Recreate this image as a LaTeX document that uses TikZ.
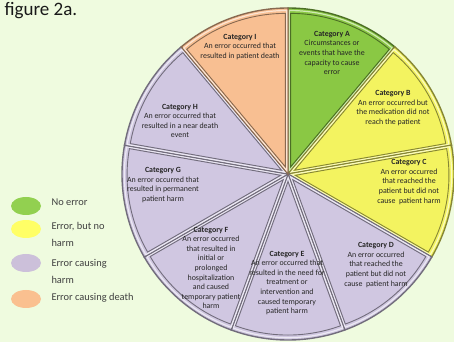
\documentclass[tikz,border=0pt]{standalone}
\usepackage{fontspec}
\setmainfont{Carlito}
\usetikzlibrary{shapes.geometric}

\definecolor{bgpale}{RGB}{239,251,223}
\definecolor{noerr}{RGB}{138,200,68}
\definecolor{noharm}{RGB}{243,243,96}
\definecolor{harm}{RGB}{208,199,225}
\definecolor{death}{RGB}{248,191,146}
\definecolor{keynoerr}{RGB}{146,208,80}
\definecolor{keynoharm}{RGB}{255,255,102}
\definecolor{keyharm}{RGB}{204,192,218}
\definecolor{keydeath}{RGB}{250,192,144}

\begin{document}
\begin{tikzpicture}[x=1pt,y=1pt,
    slice/.style={draw=#1!55!black, line width=1.4pt, fill=#1},
    bevel/.style={draw=#1!55!black, line width=0.9pt},
    cat/.style={font=\fontsize{7.9}{9.6}\selectfont, align=center, text=black!85},
    key/.style={ellipse, minimum width=30pt, minimum height=18pt, inner sep=0pt},
    keytext/.style={font=\fontsize{10.4}{17}\selectfont, text=black!75, anchor=west, align=left}]
    \useasboundingbox (0,0) rectangle (454,342);
    \fill[bgpale] (0,0) rectangle (454,342);

    \node[anchor=base west, font=\fontsize{19}{22}\selectfont, text=black!90] (title) at (1,326) {figure 2a.};

    % pie, nine equal slices, clockwise from the top
    \begin{scope}[shift={(288,168)}]
    \foreach \a/\c in {50/noerr,10/noharm,-30/noharm,-70/harm,-110/harm,-150/harm,170/harm,130/harm,90/death}{
        \draw[slice=\c] (0,0) -- (\a:166) arc[start angle=\a, end angle=\a+40, radius=166] -- cycle;
        \draw[white!60!\c, line width=1.2pt, scale around={0.965:(\a+20:100)}] (0,0) -- (\a:166) arc[start angle=\a, end angle=\a+40, radius=166] -- cycle;
        \draw[bevel=\c, scale around={0.925:(\a+20:100)}] (0,0) -- (\a:166) arc[start angle=\a, end angle=\a+40, radius=166] -- cycle;
    }
    \end{scope}

    \node[cat] (catA) at (332,289) {\textbf{Category A}\\Circumstances or\\events that have the\\capacity to cause\\error};
    \node[cat] (catB) at (393,234) {\textbf{Category B}\\An error occurred but\\the medication did not\\reach the patient};
    \node[cat] (catC) at (409,160) {\textbf{Category C}\\An error occurred\\that reached the\\patient but did not\\cause\ \ patient harm};
    \node[cat] (catD) at (376,77) {\textbf{Category D}\\An error occurred\\that reached the\\patient but did not\\cause\ \ patient harm};
    \node[cat] (catE) at (287,59) {\textbf{Category E}\\An error occurred that\\resulted in the need for\\treatment or\\intervention and\\caused temporary\\patient harm};
    \node[cat] (catF) at (211,74) {\textbf{Category F}\\An error occurred\\that resulted in\\initial or\\prolonged\\hospitalization\\and caused\\temporary patient\\harm};
    \node[cat] (catG) at (163,157) {\textbf{Category G}\\An error occurred that\\resulted in permanent\\patient harm};
    \node[cat] (catH) at (180,221) {\textbf{Category H}\\An error occurred that\\resulted in a near death\\event};
    \node[cat] (catI) at (240,295) {\textbf{Category I}\\An error occurred that\\resulted in patient death};

    % legend
    \node[key, fill=keynoerr] (keyA) at (26,136) {};
    \node[key, fill=keynoharm] (keyB) at (26,113) {};
    \node[key, fill=keyharm] (keyC) at (26,79) {};
    \node[key, fill=keydeath] (keyD) at (26,43) {};
    \node[keytext] (txtA) at (48,140) {No error};
    \node[keytext] (txtB) at (48,107.5) {Error, but no\\harm};
    \node[keytext] (txtC) at (48,71) {Error causing\\harm};
    \node[keytext] (txtD) at (48,44) {Error causing death};
\end{tikzpicture}
\end{document}
